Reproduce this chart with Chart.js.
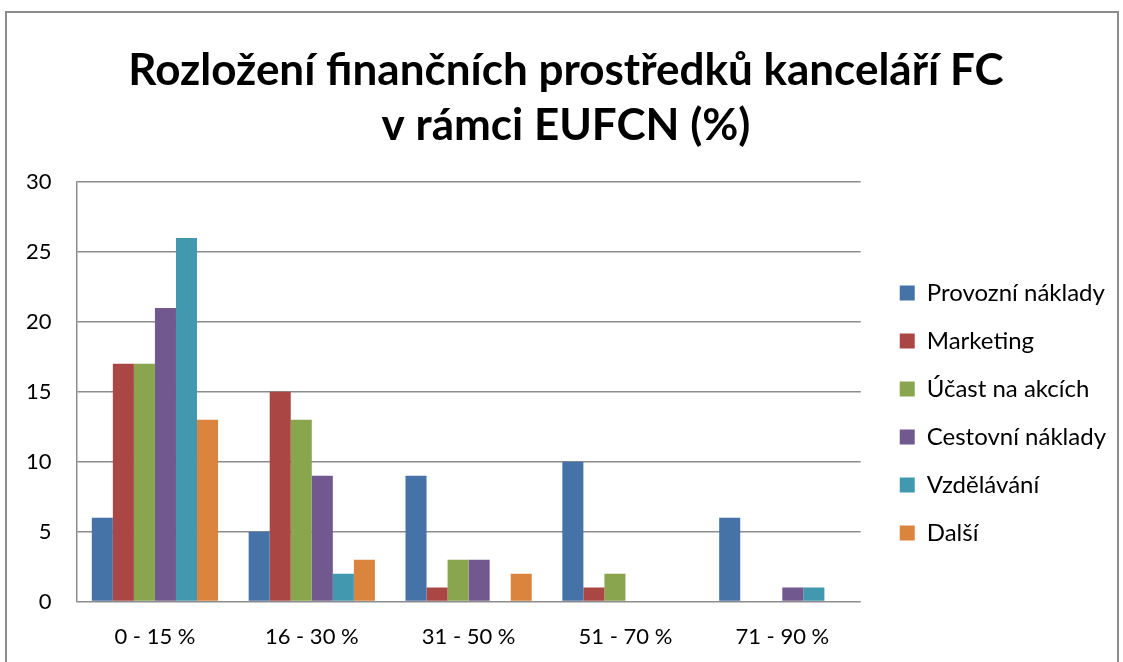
<!DOCTYPE html>
<html>
<head>
<meta charset="utf-8">
<script src="https://cdn.jsdelivr.net/npm/chart.js@4.4.1/dist/chart.umd.min.js"></script>
<style>
  html, body { margin: 0; padding: 0; background: #fff; }
  #wrap { width: 1123px; height: 662px; }
</style>
</head>
<body>
<div id="wrap"><canvas id="chart" width="1123" height="662"></canvas></div>
<script>
// kategorie a hodnoty (%)
const categories = ['0 - 15 %', '16 - 30 %', '31 - 50 %', '51 - 70 %', '71 - 90 %'];
const provozni   = [6, 5, 9, 10, 6];
const marketing  = [17, 15, 1, 1, 0];
const ucast      = [17, 13, 3, 2, 0];
const cestovni   = [21, 9, 3, 0, 1];
const vzdelavani = [26, 2, 0, 0, 1];
const dalsi      = [13, 3, 2, 0, 0];
const yTicks     = [0, 5, 10, 15, 20, 25, 30];

const FONT = 'Lato, "Open Sans", sans-serif';

// rámeček kolem celého grafu
const framePlugin = {
  id: 'frame',
  beforeDraw(chart) {
    const c = chart.ctx;
    c.save();
    c.strokeStyle = '#8c8c8c';
    c.lineWidth = 2;
    c.strokeRect(6, 12, 1112, 700);
    c.restore();
  }
};

// posun legendy a nadpisu na místo jako v originále
const boxShift = {
  id: 'boxShift',
  afterLayout(chart) {
    const lg = chart.legend;
    if (lg) {
      lg.left += 15; lg.right += 15;
      lg.top += 77; lg.bottom += 77;
    }
    const t = chart.titleBlock;
    if (t) {
      t.left += 15; t.right += 15;
    }
  }
};

function ds(label, data, color) {
  return {
    label: label,
    data: data,
    backgroundColor: color,
    borderWidth: 0,
    categoryPercentage: 0.805,
    barPercentage: 1.0
  };
}

new Chart(document.getElementById('chart'), {
  type: 'bar',
  data: {
    labels: categories,
    datasets: [
      ds('Provozní náklady', provozni, '#4572A7'),
      ds('Marketing', marketing, '#AA4643'),
      ds('Účast na akcích', ucast, '#89A54E'),
      ds('Cestovní náklady', cestovni, '#71588F'),
      ds('Vzdělávání', vzdelavani, '#4198AF'),
      ds('Další', dalsi, '#DB843D')
    ]
  },
  options: {
    responsive: false,
    animation: false,
    layout: { padding: { left: 1, right: 22, top: 0, bottom: -10 } },
    plugins: {
      title: {
        display: true,
        text: ['Rozložení finančních prostředků kanceláří FC', 'v rámci EUFCN (%)'],
        color: '#000',
        font: { family: FONT, size: 44, weight: 'bold', lineHeight: 1.25 },
        padding: { top: 43, bottom: 29 }
      },
      legend: {
        position: 'right',
        labels: {
          color: '#000',
          font: { family: FONT, size: 24, lineHeight: 1.2 },
          boxWidth: 15,
          boxHeight: 15,
          padding: 24
        }
      },
      tooltip: { enabled: false }
    },
    scales: {
      x: {
        grid: { display: false, drawTicks: false },
        border: { display: false },
        ticks: { color: '#000', font: { family: FONT, size: 22 }, padding: 22 }
      },
      y: {
        min: 0,
        max: 30,
        afterBuildTicks: (axis) => { axis.ticks = yTicks.map(v => ({ value: v })); },
        grid: { color: '#8c8c8c', lineWidth: 1.5, drawTicks: false },
        border: { display: true, color: '#8c8c8c', width: 1.5 },
        ticks: { color: '#000', font: { family: FONT, size: 22 }, padding: 25 }
      }
    }
  },
  plugins: [framePlugin, boxShift]
});
</script>
</body>
</html>
